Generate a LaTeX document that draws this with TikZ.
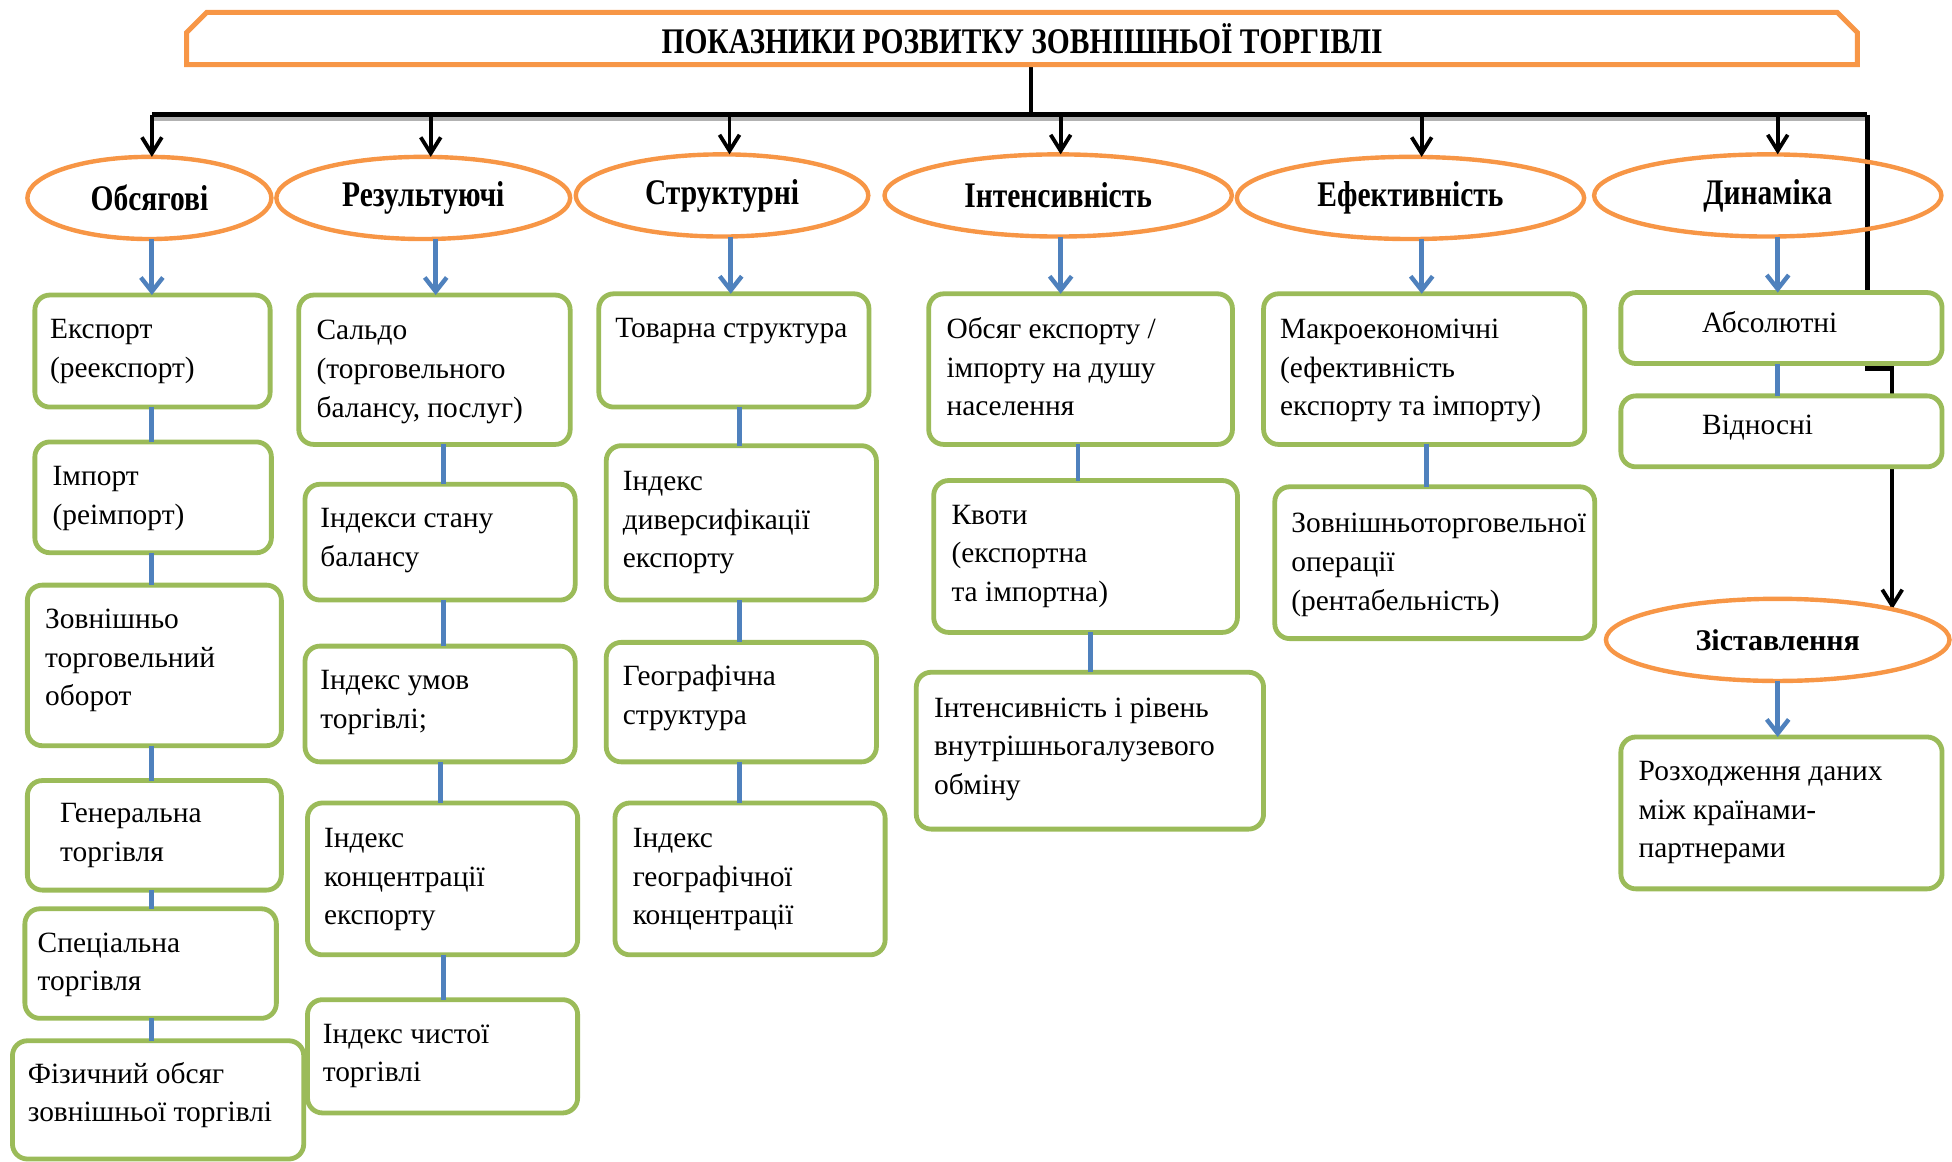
\documentclass[tikz,border=0pt]{standalone}
\usepackage{fontspec}
\setmainfont{Liberation Serif}
\usepackage{graphicx}
\usetikzlibrary{arrows.meta,shapes.geometric,shapes.misc}
\definecolor{org}{HTML}{F79646}
\definecolor{grn}{HTML}{9BBB59}
\definecolor{blu}{HTML}{4F81BD}
\pgfdeclarelayer{bg}\pgfsetlayers{bg,main}
\newcommand\hd[1]{\scalebox{0.82}[1]{\fontsize{18}{20}\selectfont\bfseries #1}}
\newcommand\bx[8]{%
 \node[gbox, minimum width={(#4-#2)*0.6225pt}, minimum height={(#5-#3)*0.6225pt}] (#1) at (#2,#3) {};
 \node[btext] (#1t) at (#6,#7+3) {\parbox[t]{20em}{\raggedright #8}};}
\tikzset{
 gbox/.style={draw=grn, line width=2.4pt, rounded corners=7.5pt, fill=white, anchor=north west, outer sep=0pt, inner sep=0pt},
 btext/.style={anchor=base west, inner sep=0pt, font=\fontsize{14.7}{19.3}\selectfont},
 ell/.style={ellipse, draw=org, line width=2.2pt, inner sep=0pt, outer sep=0pt},
 barr/.style={draw=blu, line width=2.4pt, -{Straight Barb[length=7pt,width=11pt,line width=2.2pt]}},
 bln/.style={draw=blu, line width=2.4pt},
 blk/.style={draw=black, line width=1.9pt, -{Straight Barb[length=8pt,width=10pt,line width=1.9pt]}},
 bus/.style={draw=black, line width=2.8pt},
}
\begin{document}
\begin{tikzpicture}[x=0.6225pt,y=-0.6225pt]
\useasboundingbox (0,0) rectangle (1568,933);
% title
\node[chamfered rectangle, chamfered rectangle corners={north west,north east}, chamfered rectangle xsep=5pt, chamfered rectangle ysep=5pt, draw=org, line width=2.5pt, fill=white, minimum width={1342*0.6225pt}, minimum height={42*0.6225pt}, inner sep=0pt, outer sep=0pt] (title) at (821,31) {\hd{ПОКАЗНИКИ РОЗВИТКУ ЗОВНІШНЬОЇ ТОРГІВЛІ}};
% ellipses
\node[ell, minimum width={196*0.6225pt}, minimum height={66*0.6225pt}] (e1) at (120,159) {\hd{Обсягові}};
\node[ell, minimum width={236*0.6225pt}, minimum height={66*0.6225pt}] (e2) at (340,159) {\hd{Результуючі}};
\node[ell, minimum width={235*0.6225pt}, minimum height={66*0.6225pt}] (e3) at (580,157) {\hd{Структурні}};
\node[ell, minimum width={279*0.6225pt}, minimum height={66*0.6225pt}] (e4) at (850,157) {\hd{Інтенсивність}};
\node[ell, minimum width={279*0.6225pt}, minimum height={66*0.6225pt}] (e5) at (1133,159) {\hd{Ефективність}};
\node[ell, minimum width={279*0.6225pt}, minimum height={66*0.6225pt}] (e6) at (1420,157) {\hd{Динаміка}};
\node[ell, minimum width={276*0.6225pt}, minimum height={66*0.6225pt}] (e7) at (1428,514) {\fontsize{15}{18}\selectfont\bfseries Зіставлення};
% boxes column 1
\bx{c1a}{28}{237}{217}{327}{40}{269}{Експорт\\(реекспорт)}
\bx{c1b}{28}{355}{218}{444}{42}{387}{Імпорт\\(реімпорт)}
\bx{c1c}{22}{470}{226}{599}{36}{502}{Зовнішньо\\торговельний\\оборот}
\bx{c1d}{22}{627}{226}{715}{48}{658}{Генеральна\\торгівля}
\bx{c1e}{20}{730}{222}{818}{30}{762}{Спеціальна\\торгівля}
\bx{c1f}{10}{836}{244}{931}{22}{867}{Фізичний обсяг\\зовнішньої торгівлі}
% column 2
\bx{c2a}{240}{237}{458}{357}{254}{270}{Сальдо\\(торговельного\\балансу, послуг)}
\bx{c2b}{245}{389}{462}{482}{257}{421}{Індекси стану\\балансу}
\bx{c2c}{245}{519}{462}{612}{257}{551}{Індекс умов\\торгівлі;}
\bx{c2d}{247}{645}{464}{767}{260}{678}{Індекс\\концентрації\\експорту}
\bx{c2e}{247}{803}{464}{894}{259}{835}{Індекс чистої\\торгівлі}
% column 3
\bx{c3a}{481}{236}{698}{327}{494}{268}{Товарна структура}
\bx{c3b}{487}{358}{704}{482}{500}{391}{Індекс\\диверсифікації\\експорту}
\bx{c3c}{487}{516}{704}{612}{500}{548}{Географічна\\структура}
\bx{c3d}{494}{645}{711}{767}{508}{678}{Індекс\\географічної\\концентрації}
% column 4
\bx{c4a}{746}{236}{990}{357}{760}{269}{Обсяг експорту /\\імпорту на душу\\населення}
\bx{c4b}{750}{386}{994}{508}{764}{418}{Квоти\\(експортна\\та імпортна)}
\bx{c4c}{736}{540}{1015}{666}{750}{573}{Інтенсивність і рівень\\внутрішньогалузевого\\обміну}
% column 5
\bx{c5a}{1015}{236}{1273}{357}{1028}{269}{Макроекономічні\\(ефективність\\експорту та імпорту)}
\bx{c5b}{1024}{391}{1281}{513}{1037}{425}{Зовнішньоторговельної\\операції\\(рентабельність)}
% column 6
\bx{c6a}{1302}{235}{1560}{292}{1367}{264}{Абсолютні}
\bx{c6b}{1302}{318}{1560}{375}{1367}{346}{Відносні}
\bx{c6c}{1302}{592}{1560}{714}{1316}{624}{Розходження даних\\між країнами-\\партнерами}
% black tree
\coordinate (busL) at (122,92);
\coordinate (busR) at (1500,92);
\coordinate (bend1) at (1500,296);
\coordinate (bend2) at (1520,296);
\begin{pgfonlayer}{bg}
\draw[draw=black!30, line width=2.8pt] ([yshift=-2pt]busL) -- ([yshift=-2pt]busR);
\draw[line width=2.2pt] (828,0 |- title.south) -- (828,92);
\draw[bus] (busL) -- (busR);
\draw[line width=2.2pt] (busR) -- (bend1) -- (bend2) -- (1520,0 |- e7.15);
\draw[blk] (1520,0 |- c6b.south) -- (1520,0 |- e7.15);
\end{pgfonlayer}
\draw[blk] (busL) -- (122,0 |- e1.north);
\draw[blk] (346,92) -- (346,0 |- e2.north);
\draw[blk] (586,92) -- (586,0 |- e3.north);
\draw[blk] (852,92) -- (852,0 |- e4.north);
\draw[blk] (1142,92) -- (1142,0 |- e5.north);
\draw[blk] (1428,92) -- (1428,0 |- e6.north);
% blue arrows
\draw[barr] (122,0 |- e1.south) -- (122,0 |- c1a.north);
\draw[barr] (350,0 |- e2.south) -- (350,0 |- c2a.north);
\draw[barr] (587,0 |- e3.south) -- (587,0 |- c3a.north);
\draw[barr] (852,0 |- e4.south) -- (852,0 |- c4a.north);
\draw[barr] (1142,0 |- e5.south) -- (1142,0 |- c5a.north);
\draw[barr] (1428,0 |- e6.south) -- (1428,0 |- c6a.north);
\draw[barr] (1428,0 |- e7.south) -- (1428,0 |- c6c.north);
% blue connectors
\draw[bln] (122,0 |- c1a.south) -- (122,0 |- c1b.north);
\draw[bln] (122,0 |- c1b.south) -- (122,0 |- c1c.north);
\draw[bln] (122,0 |- c1c.south) -- (122,0 |- c1d.north);
\draw[bln] (122,0 |- c1d.south) -- (122,0 |- c1e.north);
\draw[bln] (122,0 |- c1e.south) -- (122,0 |- c1f.north);
\draw[bln] (356,0 |- c2a.south) -- (356,0 |- c2b.north);
\draw[bln] (356,0 |- c2b.south) -- (356,0 |- c2c.north);
\draw[bln] (354,0 |- c2c.south) -- (354,0 |- c2d.north);
\draw[bln] (356,0 |- c2d.south) -- (356,0 |- c2e.north);
\draw[bln] (594,0 |- c3a.south) -- (594,0 |- c3b.north);
\draw[bln] (594,0 |- c3b.south) -- (594,0 |- c3c.north);
\draw[bln] (594,0 |- c3c.south) -- (594,0 |- c3d.north);
\draw[bln] (866,0 |- c4a.south) -- (866,0 |- c4b.north);
\draw[bln] (876,0 |- c4b.south) -- (876,0 |- c4c.north);
\draw[bln] (1146,0 |- c5a.south) -- (1146,0 |- c5b.north);
\draw[bln] (1428,0 |- c6a.south) -- (1428,0 |- c6b.north);
\end{tikzpicture}
\end{document}
